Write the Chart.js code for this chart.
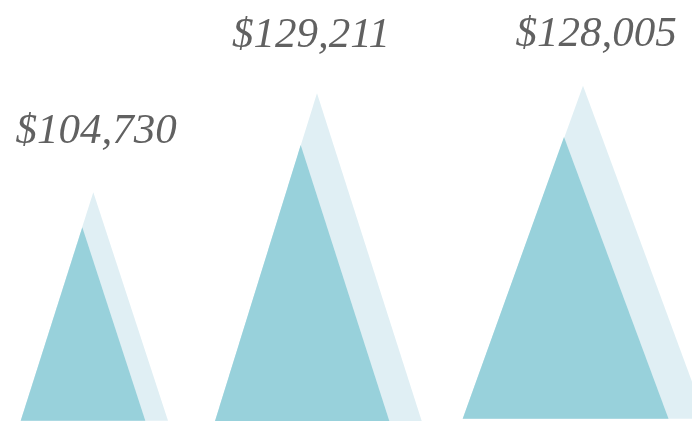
<!DOCTYPE html>
<html>
<head>
<meta charset="utf-8">
<title>Pyramids</title>
<script src="https://cdn.jsdelivr.net/npm/chart.js@4.4.1/dist/chart.umd.min.js"></script>
<style>
  html, body { margin: 0; padding: 0; background: #ffffff; }
  #wrap { width: 692px; height: 422px; }
</style>
</head>
<body>
<div id="wrap"><canvas id="chart" width="692" height="422"></canvas></div>
<script>
// Valores (eixos lineares ocultos, unidades do eixo)
const amounts = [104730, 129211, 128005];
const groundLevel = [1.2, 1, 3.3];
const footLeft = [20.7, 215, 462.7];
const backPeakX = [93.3, 317, 583];
const backPeakY = [229.7, 328.7, 336.3];
const backFootRight = [168, 421.7, 705.6];
const frontPeakX = [82.3, 300.7, 564];
const frontPeakY = [194.7, 277, 285];
const frontFootRight = [145.3, 389.3, 668.5];
const labelX = [96, 311, 596];
const labelY = [278.7, 375.3, 376];

const COLORS = { front: "#98d1db", back: "#e0eff4", text: "#616161" };

function triangle(left, peakX, peakY, right, ground) {
  return [
    { x: left, y: ground },
    { x: peakX, y: peakY },
    { x: right, y: ground }
  ];
}

const datasets = [];
amounts.forEach((_, i) => {
  datasets.push({
    label: `front-${i}`,
    data: triangle(footLeft[i], frontPeakX[i], frontPeakY[i], frontFootRight[i], groundLevel[i]),
    backgroundColor: COLORS.front,
    order: 1
  });
  datasets.push({
    label: `back-${i}`,
    data: triangle(footLeft[i], backPeakX[i], backPeakY[i], backFootRight[i], groundLevel[i]),
    backgroundColor: COLORS.back,
    order: 2
  });
});
datasets.forEach((ds) => Object.assign(ds, {
  showLine: true,
  fill: "shape",
  tension: 0,
  borderWidth: 0,
  borderColor: "rgba(0,0,0,0)",
  pointRadius: 0,
  pointHoverRadius: 0
}));

const amountLabels = {
  id: "amountLabels",
  afterDatasetsDraw(chart) {
    const { ctx, scales } = chart;
    ctx.save();
    ctx.fillStyle = COLORS.text;
    ctx.font = "italic 43px 'Liberation Serif', 'DejaVu Serif', serif";
    ctx.textAlign = "center";
    ctx.textBaseline = "alphabetic";
    amounts.forEach((value, i) => {
      const text = "$" + value.toLocaleString("en-US");
      ctx.fillText(text, scales.x.getPixelForValue(labelX[i]), scales.y.getPixelForValue(labelY[i]));
    });
    ctx.restore();
  }
};

new Chart(document.getElementById("chart").getContext("2d"), {
  type: "scatter",
  data: { datasets },
  options: {
    responsive: false,
    animation: false,
    layout: { padding: 0 },
    plugins: { legend: { display: false }, tooltip: { enabled: false } },
    scales: {
      x: { type: "linear", min: 0, max: 692, display: false },
      y: { type: "linear", min: 0, max: 422, display: false }
    }
  },
  plugins: [amountLabels]
});
</script>
</body>
</html>
